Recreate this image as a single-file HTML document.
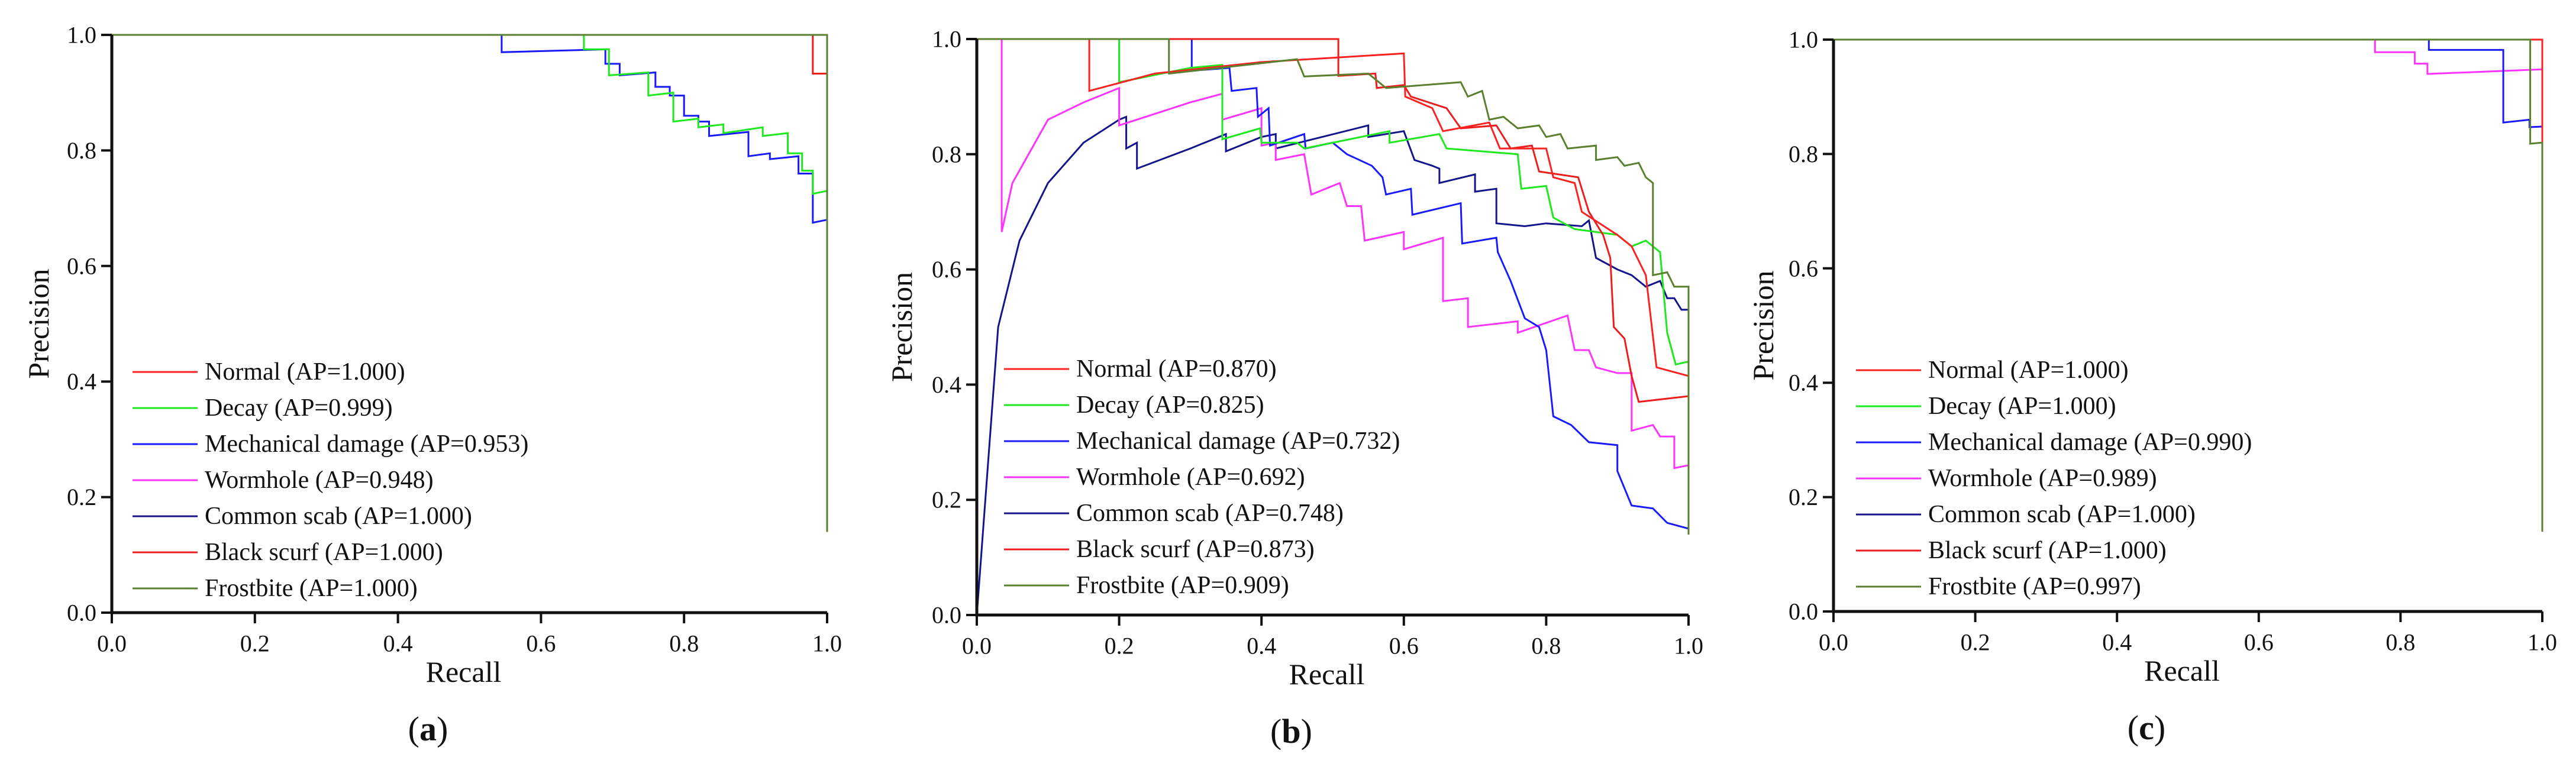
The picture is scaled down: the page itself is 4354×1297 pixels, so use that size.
<!DOCTYPE html>
<html><head><meta charset="utf-8">
<style>
html,body{margin:0;padding:0;background:#fff;}
svg{display:block;font-family:"Liberation Serif","DejaVu Serif","Times New Roman",serif;}
svg text{font-family:"Liberation Serif","DejaVu Serif","Times New Roman",serif;}
</style></head>
<body>
<svg id="fig" width="4354" height="1297" viewBox="0 0 4354 1297" xmlns="http://www.w3.org/2000/svg"></svg>
<script>
const ticks = [0, 0.2, 0.4, 0.6, 0.8, 1.0];
const tickLabels = ["0.0", "0.2", "0.4", "0.6", "0.8", "1.0"];
const classNames = ["Normal", "Decay", "Mechanical damage", "Wormhole", "Common scab", "Black scurf", "Frostbite"];
const classColors = ["#ff2020", "#1ee81e", "#1a1aff", "#ff33ff", "#14148c", "#ee1c1c", "#5a7f2e"];
const apA = ["1.000", "0.999", "0.953", "0.948", "1.000", "1.000", "1.000"];
const apB = ["0.870", "0.825", "0.732", "0.692", "0.748", "0.873", "0.909"];
const apC = ["1.000", "1.000", "0.990", "0.989", "1.000", "1.000", "0.997"];

const aNormal = [[0,1],[1,1],[1,0.14]];
const aDecay = [[0,1],[0.66,1],[0.66,0.975],[0.695,0.975],[0.695,0.93],[0.75,0.935],[0.75,0.895],[0.785,0.9],[0.785,0.85],[0.82,0.855],[0.82,0.84],[0.855,0.845],[0.855,0.83],[0.91,0.84],[0.91,0.825],[0.945,0.83],[0.945,0.795],[0.965,0.795],[0.965,0.765],[0.98,0.765],[0.98,0.725],[1,0.73],[1,0.14]];
const aMech = [[0,1],[0.545,1],[0.545,0.97],[0.69,0.975],[0.69,0.95],[0.71,0.95],[0.71,0.93],[0.76,0.935],[0.76,0.91],[0.78,0.91],[0.78,0.895],[0.8,0.895],[0.8,0.86],[0.82,0.86],[0.82,0.85],[0.835,0.85],[0.835,0.825],[0.89,0.832],[0.89,0.79],[0.92,0.795],[0.92,0.785],[0.96,0.79],[0.96,0.76],[0.98,0.76],[0.98,0.675],[1,0.68],[1,0.14]];
const aWorm = [[0,1],[1,1],[1,0.14]];
const aScab = [[0,1],[1,1],[1,0.14]];
const aBlack = [[0,1],[0.98,1],[0.98,0.933],[1,0.933],[1,0.14]];
const aFrost = [[0,1],[1,1],[1,0.14]];

const bNormal = [[0,1],[0.158,1],[0.158,0.91],[0.25,0.94],[0.4,0.96],[0.6,0.975],[0.602,0.9],[0.64,0.88],[0.655,0.84],[0.72,0.855],[0.735,0.81],[0.8,0.81],[0.81,0.76],[0.84,0.75],[0.85,0.7],[0.9,0.66],[0.92,0.64],[0.94,0.59],[0.955,0.43],[1,0.415],[1,0.14]];
const bDecay = [[0,1],[0.2,1],[0.2,0.925],[0.3,0.95],[0.345,0.955],[0.345,0.826],[0.398,0.845],[0.4,0.82],[0.45,0.82],[0.46,0.81],[0.58,0.84],[0.58,0.82],[0.65,0.835],[0.66,0.81],[0.76,0.80],[0.765,0.74],[0.8,0.745],[0.81,0.69],[0.84,0.67],[0.9,0.66],[0.92,0.64],[0.94,0.65],[0.96,0.63],[0.97,0.49],[0.982,0.435],[1,0.44],[1,0.14]];
const bMech = [[0,1],[0.302,1],[0.302,0.945],[0.355,0.95],[0.358,0.91],[0.393,0.915],[0.395,0.865],[0.41,0.88],[0.412,0.815],[0.46,0.835],[0.462,0.81],[0.5,0.82],[0.52,0.80],[0.555,0.78],[0.57,0.76],[0.575,0.73],[0.61,0.74],[0.612,0.695],[0.68,0.715],[0.682,0.645],[0.73,0.655],[0.732,0.63],[0.75,0.58],[0.77,0.515],[0.79,0.5],[0.8,0.46],[0.81,0.345],[0.835,0.33],[0.86,0.30],[0.9,0.295],[0.9,0.25],[0.92,0.19],[0.95,0.185],[0.97,0.16],[1,0.15],[1,0.14]];
const bWorm = [[0,1],[0.035,1],[0.035,0.665],[0.05,0.75],[0.1,0.86],[0.15,0.89],[0.2,0.915],[0.2,0.85],[0.3,0.89],[0.345,0.905],[0.345,0.86],[0.4,0.88],[0.4,0.815],[0.42,0.82],[0.42,0.79],[0.46,0.8],[0.47,0.73],[0.51,0.75],[0.52,0.71],[0.54,0.71],[0.545,0.65],[0.6,0.665],[0.6,0.635],[0.655,0.655],[0.655,0.545],[0.69,0.55],[0.69,0.5],[0.76,0.51],[0.76,0.49],[0.83,0.52],[0.84,0.46],[0.86,0.46],[0.87,0.43],[0.9,0.42],[0.92,0.42],[0.92,0.32],[0.95,0.33],[0.96,0.31],[0.98,0.31],[0.98,0.255],[1,0.26],[1,0.14]];
const bScab = [[0,0],[0.03,0.5],[0.06,0.65],[0.1,0.75],[0.15,0.82],[0.2,0.86],[0.21,0.865],[0.21,0.81],[0.225,0.82],[0.225,0.775],[0.3,0.81],[0.35,0.835],[0.35,0.805],[0.4,0.83],[0.42,0.835],[0.42,0.81],[0.55,0.85],[0.55,0.83],[0.6,0.84],[0.615,0.79],[0.64,0.78],[0.65,0.775],[0.65,0.75],[0.7,0.765],[0.7,0.735],[0.73,0.74],[0.73,0.68],[0.77,0.675],[0.8,0.68],[0.85,0.675],[0.86,0.685],[0.87,0.62],[0.9,0.6],[0.92,0.59],[0.94,0.57],[0.96,0.58],[0.97,0.55],[0.98,0.55],[0.99,0.53],[1,0.53],[1,0.14]];
const bBlack = [[0,1],[0.508,1],[0.508,0.936],[0.56,0.94],[0.562,0.915],[0.6,0.92],[0.61,0.9],[0.66,0.88],[0.68,0.845],[0.73,0.85],[0.75,0.81],[0.78,0.815],[0.79,0.77],[0.845,0.76],[0.86,0.7],[0.88,0.66],[0.89,0.62],[0.895,0.5],[0.91,0.48],[0.92,0.415],[0.93,0.37],[1,0.38],[1,0.14]];
const bFrost = [[0,1],[0.27,1],[0.27,0.94],[0.45,0.965],[0.46,0.935],[0.55,0.94],[0.575,0.915],[0.68,0.925],[0.69,0.9],[0.71,0.91],[0.72,0.86],[0.74,0.865],[0.76,0.845],[0.79,0.85],[0.8,0.83],[0.82,0.835],[0.83,0.81],[0.87,0.815],[0.87,0.79],[0.9,0.795],[0.91,0.78],[0.93,0.785],[0.94,0.76],[0.95,0.75],[0.95,0.59],[0.97,0.595],[0.98,0.57],[1,0.57],[1,0.14]];

const cNormal = [[0,1],[1,1],[1,0.14]];
const cDecay = [[0,1],[1,1],[1,0.14]];
const cMech = [[0,1],[0.84,1],[0.84,0.982],[0.945,0.982],[0.945,0.855],[0.982,0.86],[0.982,0.847],[1,0.848],[1,0.14]];
const cWorm = [[0,1],[0.764,1],[0.764,0.978],[0.82,0.978],[0.82,0.958],[0.838,0.958],[0.838,0.94],[1,0.948],[1,0.14]];
const cScab = [[0,1],[1,1],[1,0.14]];
const cBlack = [[0,1],[1,1],[1,0.14]];
const cFrost = [[0,1],[0.983,1],[0.983,0.818],[1,0.82],[1,0.14]];

const NS = "http://www.w3.org/2000/svg";
const svg = document.getElementById("fig");
function mk(tag, attrs, parent) {
  const e = document.createElementNS(NS, tag);
  for (const k in attrs) e.setAttribute(k, attrs[k]);
  (parent || svg).appendChild(e);
  return e;
}

const panels = [
  {id:"a", x0:189, x1:1398, yTop:59, yBot:1036, ap:apA, series:[aNormal,aDecay,aMech,aWorm,aScab,aBlack,aFrost], legX:224, legY:629, precX:65},
  {id:"b", x0:1651, x1:2854, yTop:66, yBot:1040, ap:apB, series:[bNormal,bDecay,bMech,bWorm,bScab,bBlack,bFrost], legX:1697, legY:624, precX:1524},
  {id:"c", x0:3099, x1:4297, yTop:67, yBot:1034, ap:apC, series:[cNormal,cDecay,cMech,cWorm,cScab,cBlack,cFrost], legX:3137, legY:626, precX:2980}
];

panels.forEach(p => {
  const g = mk("g", {});
  
  
  const sx = r => p.x0 + r * (p.x1 - p.x0);
  const sy = v => p.yBot - v * (p.yBot - p.yTop);

  const order = [4,3,2,1,5,0,6];
  order.forEach(i => {
    const pts = p.series[i].map(d => sx(d[0]).toFixed(1) + "," + sy(d[1]).toFixed(1)).join(" ");
    const pl = mk("polyline", {points: pts, fill: "none", stroke: classColors[i], "stroke-width": 3, "stroke-linejoin": "miter"}, g);
    
    
  });

  const ax = mk("path", {d: `M${p.x0},${p.yTop} L${p.x0},${p.yBot} L${p.x1},${p.yBot}`, fill: "none", stroke: "#111", "stroke-width": 5}, g);
  
  

  ticks.forEach((t, k) => {
    const yt = mk("line", {x1: p.x0 - 18, x2: p.x0, y1: sy(t), y2: sy(t), stroke: "#111", "stroke-width": 4}, g);
    
    
    const ytl = mk("text", {x: p.x0 - 26, y: sy(t), "text-anchor": "end", "dominant-baseline": "central", "font-size": 40, fill: "#111"}, g);
    ytl.textContent = tickLabels[k];
    
    
    const xt = mk("line", {x1: sx(t), x2: sx(t), y1: p.yBot, y2: p.yBot + 18, stroke: "#111", "stroke-width": 4}, g);
    
    
    const xtl = mk("text", {x: sx(t), y: p.yBot + 52, "text-anchor": "middle", "dominant-baseline": "central", "font-size": 40, fill: "#111"}, g);
    xtl.textContent = tickLabels[k];
    
    
  });

  const xl = mk("text", {x: (p.x0 + p.x1) / 2 - 10, y: p.yBot + 100, "text-anchor": "middle", "dominant-baseline": "central", "font-size": 50, fill: "#111"}, g);
  xl.textContent = "Recall";
  
  

  const ymid = (p.yTop + p.yBot) / 2;
  const yl = mk("text", {x: p.precX, y: ymid, "text-anchor": "middle", "dominant-baseline": "central", "font-size": 50, fill: "#111", transform: `rotate(-90 ${p.precX} ${ymid})`}, g);
  yl.textContent = "Precision";
  
  

  const cap = mk("text", {x: (p.x0 + p.x1) / 2 - 70, y: p.yBot + 196, "text-anchor": "middle", "dominant-baseline": "central", "font-size": 58, fill: "#111"}, g);
  
  
  const t1 = mk("tspan", {}, cap); t1.textContent = "(";
  const t2 = mk("tspan", {"font-weight": "bold"}, cap); t2.textContent = p.id;
  const t3 = mk("tspan", {}, cap); t3.textContent = ")";

  const lg = mk("g", {}, g);
  
  
  classNames.forEach((n, i) => {
    const yy = p.legY + i * 61;
    const ent = mk("g", {}, lg);
    
    
    mk("line", {x1: p.legX, x2: p.legX + 110, y1: yy, y2: yy, stroke: classColors[i], "stroke-width": 3}, ent);
    const tx = mk("text", {x: p.legX + 122, y: yy, "dominant-baseline": "central", "font-size": 42, fill: "#111"}, ent);
    tx.textContent = n + " (AP=" + p.ap[i] + ")";
  });
});
</script>
</body></html>
